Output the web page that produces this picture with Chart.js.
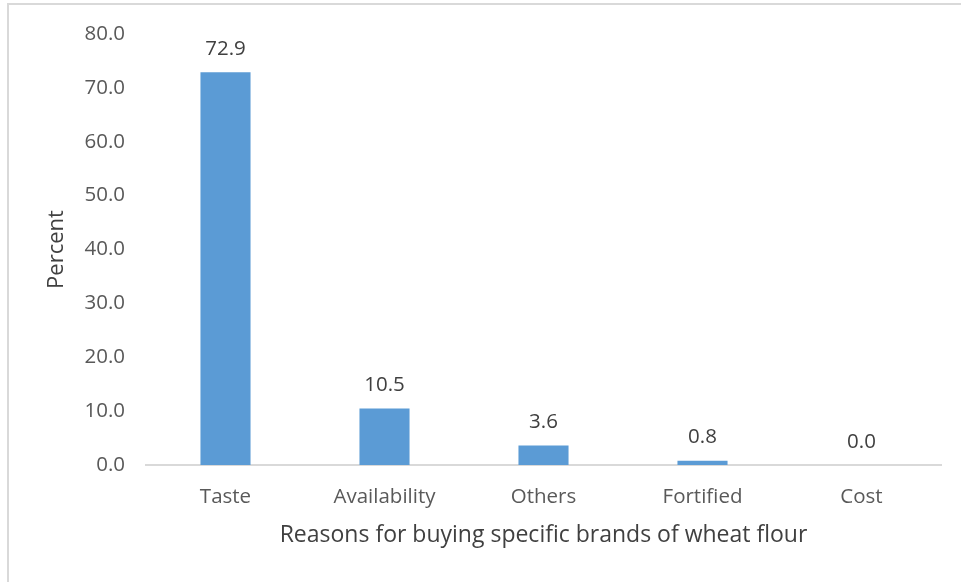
<!DOCTYPE html>
<html>
<head>
<meta charset="utf-8">
<script src="https://cdn.jsdelivr.net/npm/chart.js@4"></script>
<style>
    html, body { margin: 0; padding: 0; background: #fff; }
    #wrap { position: relative; width: 961px; height: 582px; overflow: hidden; }
    #frame { position: absolute; left: 7px; top: 3px; width: 980px; height: 620px; border: 2px solid #d9d9d9; box-sizing: border-box; }
    #chart { position: absolute; left: 0; top: 0; }
</style>
</head>
<body>
<div id="wrap">
    <div id="frame"></div>
    <canvas id="chart" width="961" height="582"></canvas>
</div>
<script>
    // reasons for buying specific brands
    const categories = ['Taste', 'Availability', 'Others', 'Fortified', 'Cost'];
    const percents = [72.9, 10.5, 3.6, 0.8, 0.0];
    const yTicks = [0, 10, 20, 30, 40, 50, 60, 70, 80];

    const fontFamily = '"Open Sans", Lato, sans-serif';

    // value labels above each bar
    const barLabels = {
        id: 'barLabels',
        afterDatasetsDraw(chart) {
            const ctx = chart.ctx;
            const meta = chart.getDatasetMeta(0);
            ctx.save();
            ctx.font = '20.5px ' + fontFamily;
            ctx.fillStyle = '#404040';
            ctx.textAlign = 'center';
            ctx.textBaseline = 'bottom';
            meta.data.forEach(function(bar, i) {
                ctx.fillText(percents[i].toFixed(1), bar.x, bar.y - 13);
            });
            ctx.restore();
        }
    };

    new Chart(document.getElementById('chart'), {
        type: 'bar',
        data: {
            labels: categories,
            datasets: [{
                data: percents,
                backgroundColor: '#5b9bd5',
                borderWidth: 0,
                barPercentage: 0.315,
                categoryPercentage: 1
            }]
        },
        options: {
            responsive: false,
            animation: false,
            layout: { padding: { top: 34, right: 20, bottom: 0, left: 0 } },
            plugins: {
                legend: { display: false },
                tooltip: { enabled: false }
            },
            scales: {
                x: {
                    grid: { display: false, drawTicks: false },
                    border: { display: true, color: '#d9d9d9', width: 2 },
                    ticks: {
                        padding: 20,
                        color: '#595959',
                        font: { family: fontFamily, size: 20.5 }
                    },
                    title: {
                        display: true,
                        text: 'Reasons for buying specific brands of wheat flour',
                        color: '#404040',
                        font: { family: fontFamily, size: 23 },
                        padding: { top: 0, bottom: 33 }
                    },
                    afterFit(scale) { scale.height = 117; }
                },
                y: {
                    min: 0,
                    max: 80,
                    grid: { display: false, drawTicks: false },
                    border: { display: false },
                    afterBuildTicks(scale) {
                        scale.ticks = yTicks.map(v => ({ value: v }));
                    },
                    ticks: {
                        padding: 21,
                        color: '#595959',
                        font: { family: fontFamily, size: 20.5 },
                        callback: v => Number(v).toFixed(1)
                    },
                    title: {
                        display: true,
                        text: 'Percent',
                        color: '#404040',
                        font: { family: fontFamily, size: 22 },
                        padding: { top: 44, bottom: 0 }
                    },
                    afterFit(scale) { scale.width = 146; }
                }
            }
        },
        plugins: [barLabels]
    });
</script>
</body>
</html>
